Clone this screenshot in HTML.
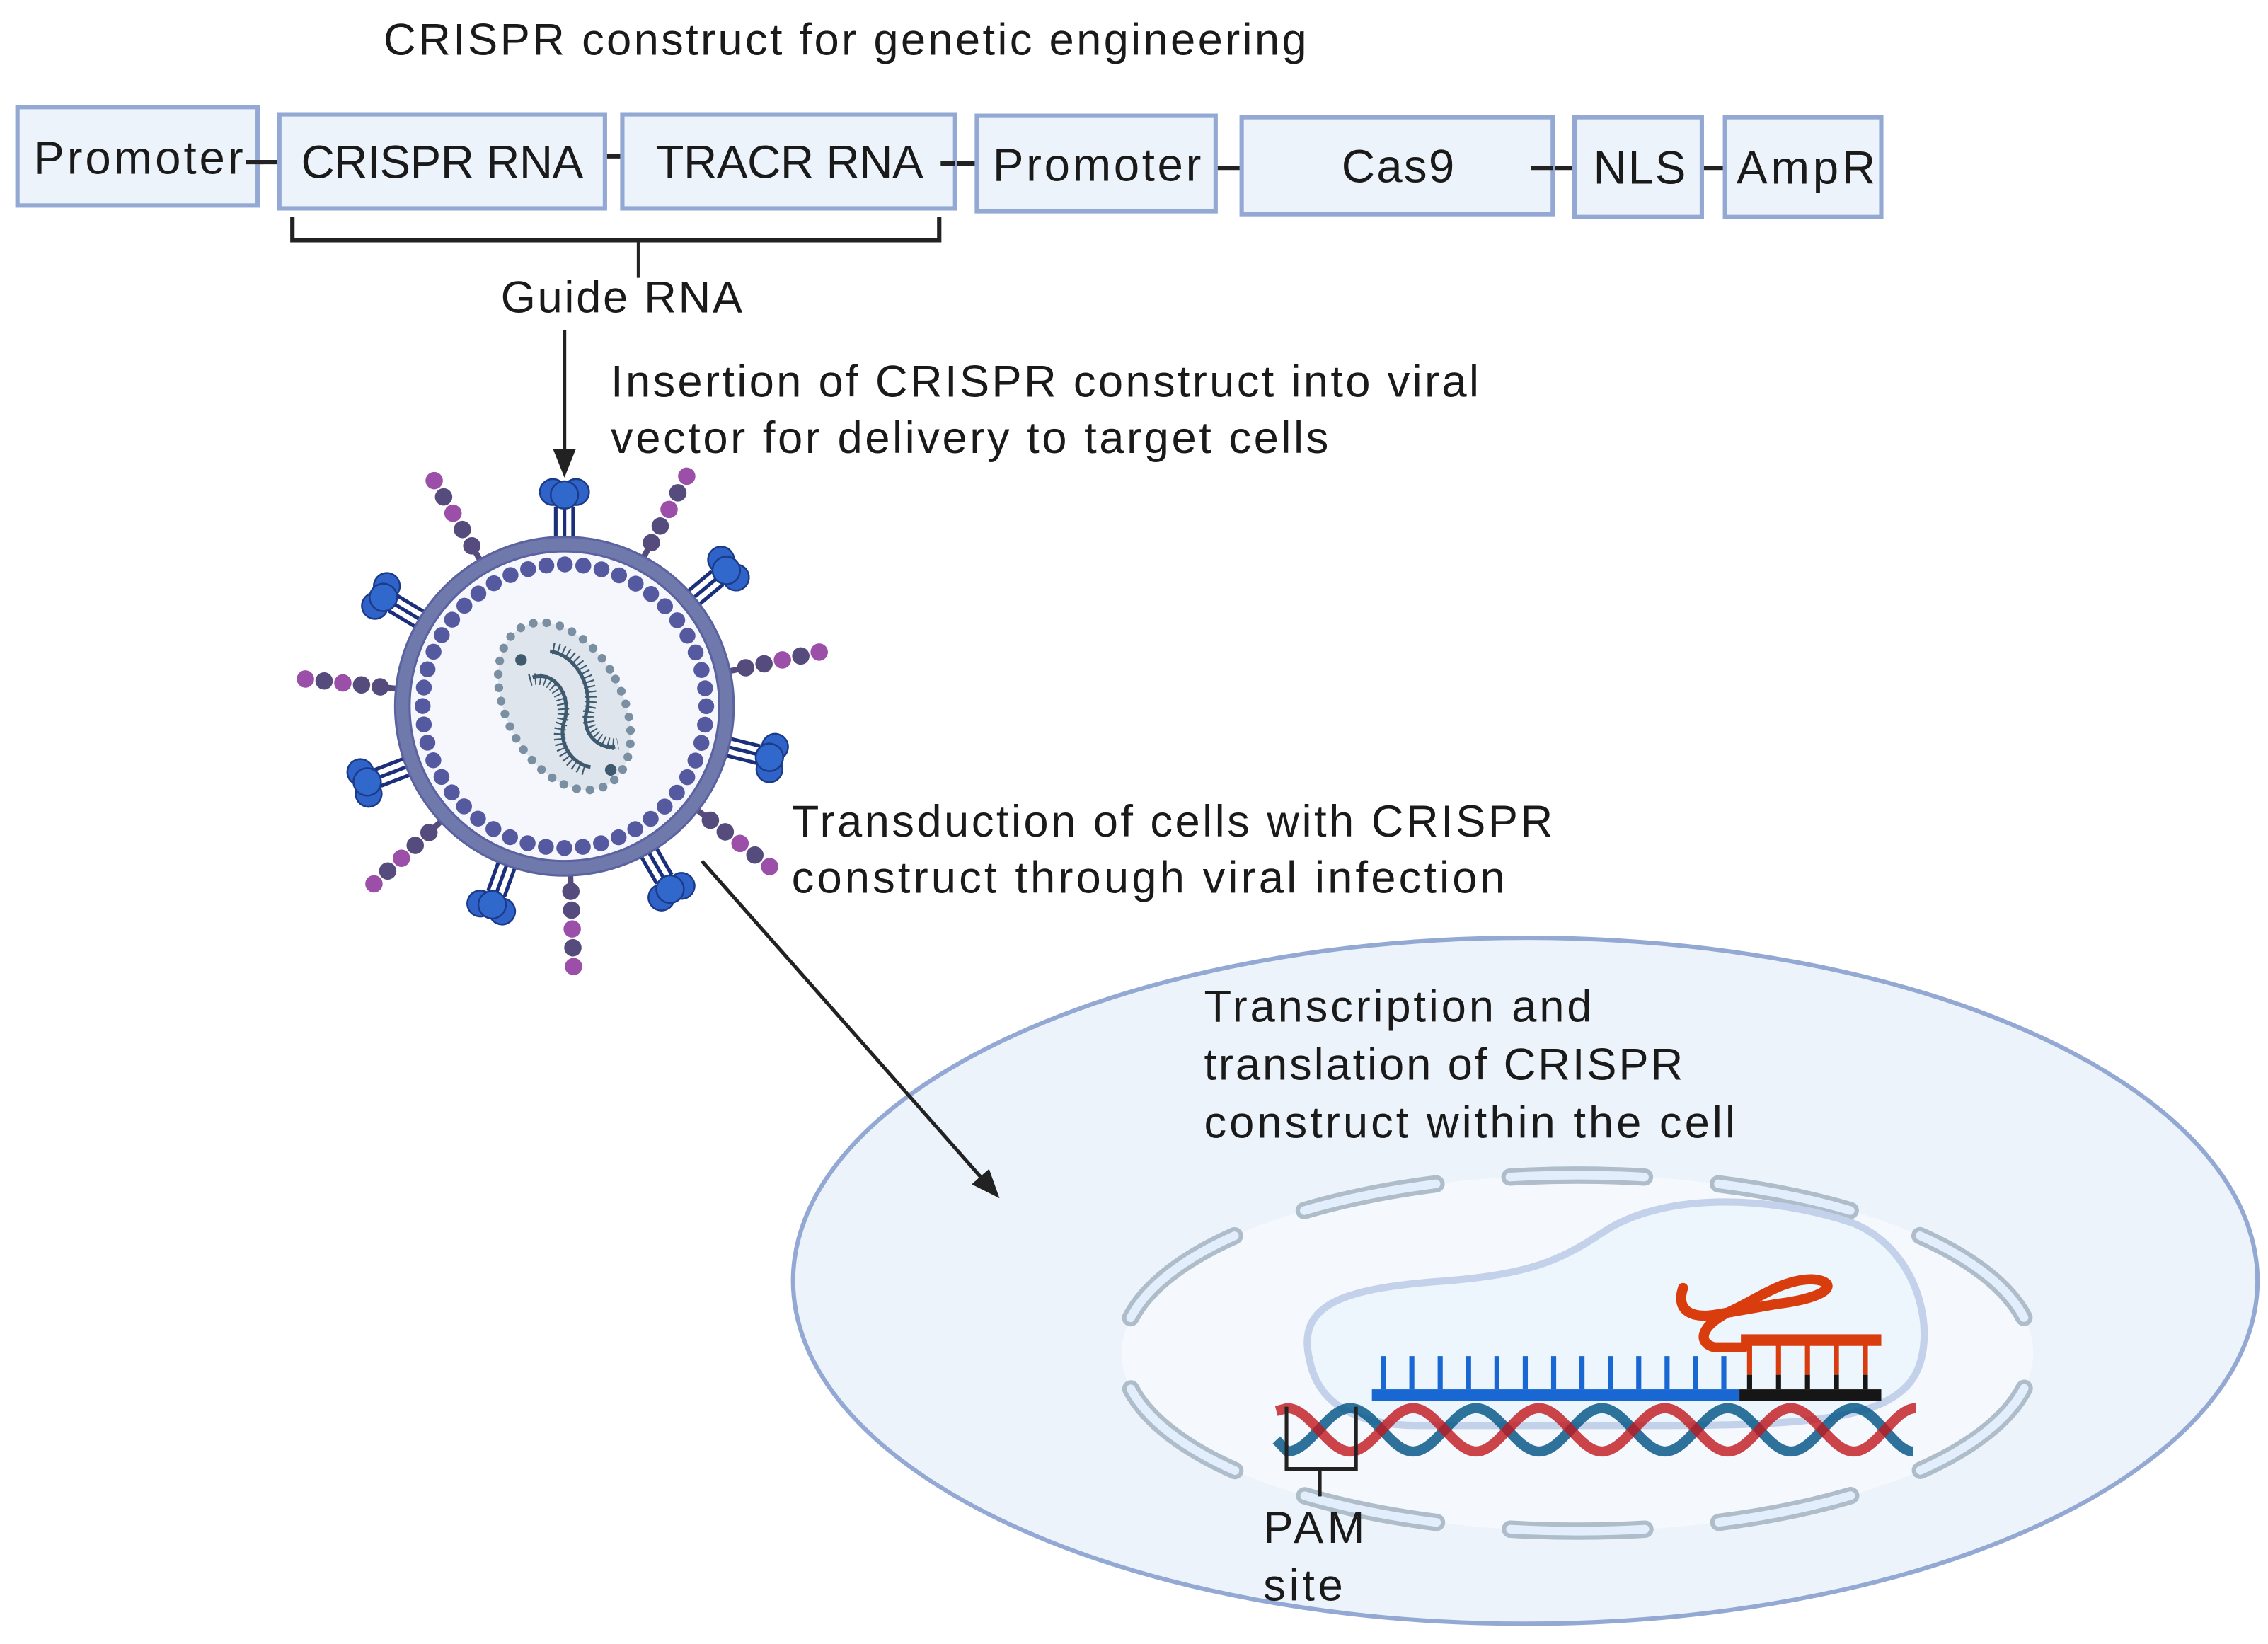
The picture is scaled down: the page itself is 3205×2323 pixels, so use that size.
<!DOCTYPE html>
<html><head><meta charset="utf-8"><style>
html,body{margin:0;padding:0;background:#fff}
svg{display:block}
text{font-family:"Liberation Sans",Arial,sans-serif;fill:#1a1a1a}
</style></head><body>
<svg width="3205" height="2323" viewBox="0 0 1567.2 1136" xmlns="http://www.w3.org/2000/svg">
<defs>
<marker id="ah2" markerWidth="20" markerHeight="20" refX="16" refY="10" orient="auto" markerUnits="userSpaceOnUse" viewBox="0 0 20 20"><path d="M0,2 L20,10 L0,18 z" fill="#222"/></marker>
<g id="bead">
<line x1="100" y1="0" x2="124" y2="0" stroke="#564b7d" stroke-width="4"/>
<circle cx="128" cy="0" r="6" fill="#564b7d"/>
<circle cx="141" cy="0" r="6" fill="#564b7d"/>
<circle cx="154" cy="0" r="6" fill="#9b4fa8"/>
<circle cx="167" cy="0" r="6" fill="#564b7d"/>
<circle cx="180" cy="0" r="6" fill="#9b4fa8"/>
</g>
<g id="glyco">
<line x1="98" y1="-6" x2="138" y2="-6" stroke="#1b2f7a" stroke-width="2.5"/>
<line x1="98" y1="0" x2="140" y2="0" stroke="#1b2f7a" stroke-width="2.5"/>
<line x1="98" y1="6" x2="138" y2="6" stroke="#1b2f7a" stroke-width="2.5"/>
<circle cx="148" cy="-8" r="9" fill="#2f63c7" stroke="#1b3a8a" stroke-width="1.2"/>
<circle cx="148" cy="8" r="9" fill="#2f63c7" stroke="#1b3a8a" stroke-width="1.2"/>
<circle cx="146" cy="0" r="9.5" fill="#3068cc" stroke="#1b3a8a" stroke-width="1.2"/>
</g>
</defs>

<text x="265" y="38" font-size="31" textLength="638">CRISPR construct for genetic engineering</text>

<g stroke="#222" stroke-width="3">
<line x1="170" y1="112" x2="193" y2="112"/>
<line x1="405" y1="108" x2="430" y2="108"/>
<line x1="650" y1="113" x2="688" y2="113"/>
<line x1="830" y1="116" x2="858" y2="116"/>
<line x1="1058" y1="116" x2="1088" y2="116"/>
<line x1="1165" y1="116" x2="1192" y2="116"/>
</g>
<g fill="#edf3fb" stroke="#93a9d4" stroke-width="3">
<rect x="12" y="74" width="166" height="68"/>
<rect x="193" y="79" width="225" height="65"/>
<rect x="430" y="79" width="230" height="65"/>
<rect x="675" y="80" width="165" height="66"/>
<rect x="858" y="81" width="215" height="67"/>
<rect x="1088" y="81" width="88" height="69"/>
<rect x="1192" y="81" width="108" height="69"/>
</g>
<g stroke="#222" stroke-width="3">
<line x1="170" y1="112" x2="182" y2="112"/>
<line x1="650" y1="113" x2="660" y2="113"/>
<line x1="1058" y1="116" x2="1073" y2="116"/>
</g>
<g font-size="32">
<text x="23" y="120" textLength="145">Promoter</text>
<text x="208" y="123" textLength="195">CRISPR RNA</text>
<text x="453" y="123" textLength="185">TRACR RNA</text>
<text x="686" y="125" textLength="144">Promoter</text>
<text x="927" y="126" textLength="78">Cas9</text>
<text x="1101" y="127" textLength="64">NLS</text>
<text x="1200" y="127" textLength="96">AmpR</text>
</g>

<path d="M202 150 V166 H649 V150" fill="none" stroke="#222" stroke-width="3"/>
<line x1="441" y1="166" x2="441" y2="192" stroke="#222" stroke-width="2"/>
<text x="346" y="216" font-size="31" textLength="167">Guide RNA</text>

<line x1="390" y1="228" x2="390" y2="326" stroke="#222" stroke-width="2.5" marker-end="url(#ah2)"/>
<text x="422" y="274" font-size="31" textLength="600">Insertion of CRISPR construct into viral</text>
<text x="422" y="313" font-size="31" textLength="496">vector for delivery to target cells</text>

<g transform="translate(390,488)">
<use href="#bead" transform="rotate(-120)"/>
<use href="#bead" transform="rotate(-62)"/>
<use href="#bead" transform="rotate(-12)"/>
<use href="#bead" transform="rotate(186)"/>
<use href="#bead" transform="rotate(137)"/>
<use href="#bead" transform="rotate(88)"/>
<use href="#bead" transform="rotate(38)"/>
<use href="#glyco" transform="rotate(-90)"/>
<use href="#glyco" transform="rotate(-40)"/>
<use href="#glyco" transform="rotate(14)"/>
<use href="#glyco" transform="rotate(60)"/>
<use href="#glyco" transform="rotate(110)"/>
<use href="#glyco" transform="rotate(159)"/>
<use href="#glyco" transform="rotate(211)"/>
<circle r="112" fill="#f5f7fd" stroke="#7079ab" stroke-width="10"/>
<circle r="117" fill="none" stroke="#5a62a0" stroke-width="1.5"/>
<circle r="107" fill="none" stroke="#5a62a0" stroke-width="1.5"/>
<circle r="98" fill="none" stroke="#5559a0" stroke-width="11" stroke-linecap="round" stroke-dasharray="0 12.83"/>
<g transform="rotate(-28)">
<ellipse cx="0" cy="0" rx="40" ry="62" fill="#dfe5ed"/>
<ellipse cx="0" cy="0" rx="40" ry="62" fill="none" stroke="#7b8fa2" stroke-width="6" stroke-linecap="round" stroke-dasharray="0 9.3"/>
</g>
<path d="M-22 -20 C-5 -25 5 -5 0 10 C-5 25 5 40 18 42" fill="none" stroke="#3f5a6e" stroke-width="2.5"/>
<path d="M-22 -20 C-5 -25 5 -5 0 10 C-5 25 5 40 18 42" fill="none" stroke="#3f5a6e" stroke-width="8" stroke-dasharray="1 2.5" transform="translate(-2,2)"/>
<path d="M-10 -38 C10 -35 20 -10 15 5 C12 20 25 30 35 28" fill="none" stroke="#3f5a6e" stroke-width="2.5"/>
<path d="M-10 -38 C10 -35 20 -10 15 5 C12 20 25 30 35 28" fill="none" stroke="#3f5a6e" stroke-width="8" stroke-dasharray="1 2.5" transform="translate(2,-2)"/>
<circle cx="-30" cy="-32" r="4" fill="#3f5a6e"/>
<circle cx="32" cy="44" r="4" fill="#3f5a6e"/>
</g>

<ellipse cx="1054" cy="885" rx="506" ry="237" fill="#edf3fb" stroke="#93a9d4" stroke-width="3"/>
<ellipse cx="1090" cy="935" rx="315" ry="123" fill="#f5f9fe"/>
<ellipse cx="1090" cy="935" rx="315" ry="123" fill="none" stroke="#aebdc9" stroke-width="12" stroke-linecap="round" stroke-dasharray="93 51.3" stroke-dashoffset="118.9"/>
<ellipse cx="1090" cy="935" rx="315" ry="123" fill="none" stroke="#e2eefb" stroke-width="6" stroke-linecap="round" stroke-dasharray="93 51.3" stroke-dashoffset="118.9"/>
<path d="M905 940 C895 900 930 890 1000 885 C1060 880 1080 870 1110 850 C1150 825 1220 825 1280 845 C1330 865 1340 930 1320 955 C1300 980 1250 985 1150 985 L980 985 C930 985 910 965 905 940 Z" fill="#edf5fd" stroke="#c3d2ea" stroke-width="5"/>

<text x="832" y="706" font-size="31" textLength="268">Transcription and</text>
<text x="832" y="746" font-size="31" textLength="331">translation of CRISPR</text>
<text x="832" y="786" font-size="31" textLength="367">construct within the cell</text>

<line x1="485" y1="595" x2="688" y2="825" stroke="#222" stroke-width="2.5" marker-end="url(#ah2)"/>
<text x="547" y="578" font-size="31" textLength="526">Transduction of cells with CRISPR</text>
<text x="547" y="617" font-size="31" textLength="493">construct through viral infection</text>

<path d="M882 995 L889.5 1003 C905.2 1003 917.3 973 933 973 S960.8 1003 976.5 1003 S1004.3 973 1020 973 S1047.8 1003 1063.5 1003 S1091.3 973 1107 973 S1134.8 1003 1150.5 1003 S1178.3 973 1194 973 S1221.8 1003 1237.5 1003 S1265.3 973 1281 973 S1308.8 1003 1322 1003" fill="none" stroke="#0b5a8a" stroke-width="7" opacity="0.85"/>
<path d="M882 975 L889.5 973 C905.2 973 917.3 1003 933 1003 S960.8 973 976.5 973 S1004.3 1003 1020 1003 S1047.8 973 1063.5 973 S1091.3 1003 1107 1003 S1134.8 973 1150.5 973 S1178.3 1003 1194 1003 S1221.8 973 1237.5 973 S1265.3 1003 1281 1003 S1308.8 973 1324 973" fill="none" stroke="#c0161c" stroke-width="7" opacity="0.8"/>

<rect x="948" y="960" width="254" height="8" fill="#1967d2"/>
<g stroke="#1967d2" stroke-width="3.5">
<line x1="956" y1="937" x2="956" y2="960"/><line x1="975.6" y1="937" x2="975.6" y2="960"/>
<line x1="995.2" y1="937" x2="995.2" y2="960"/><line x1="1014.8" y1="937" x2="1014.8" y2="960"/>
<line x1="1034.4" y1="937" x2="1034.4" y2="960"/><line x1="1054" y1="937" x2="1054" y2="960"/>
<line x1="1073.6" y1="937" x2="1073.6" y2="960"/><line x1="1093.2" y1="937" x2="1093.2" y2="960"/>
<line x1="1112.8" y1="937" x2="1112.8" y2="960"/><line x1="1132.4" y1="937" x2="1132.4" y2="960"/>
<line x1="1152" y1="937" x2="1152" y2="960"/><line x1="1171.6" y1="937" x2="1171.6" y2="960"/>
<line x1="1191.2" y1="937" x2="1191.2" y2="960"/>
</g>
<rect x="1202" y="960" width="98" height="8" fill="#161616"/>
<g stroke-width="3.5">
<line x1="1209" y1="928" x2="1209" y2="950" stroke="#d93d0e"/><line x1="1209" y1="950" x2="1209" y2="960" stroke="#161616"/>
<line x1="1229" y1="928" x2="1229" y2="950" stroke="#d93d0e"/><line x1="1229" y1="950" x2="1229" y2="960" stroke="#161616"/>
<line x1="1249" y1="928" x2="1249" y2="950" stroke="#d93d0e"/><line x1="1249" y1="950" x2="1249" y2="960" stroke="#161616"/>
<line x1="1269" y1="928" x2="1269" y2="950" stroke="#d93d0e"/><line x1="1269" y1="950" x2="1269" y2="960" stroke="#161616"/>
<line x1="1289" y1="928" x2="1289" y2="950" stroke="#d93d0e"/><line x1="1289" y1="950" x2="1289" y2="960" stroke="#161616"/>
</g>
<rect x="1203" y="922" width="97" height="8" fill="#d93d0e"/>
<path d="M1163 890 C1158 905 1168 912 1188 908 L1228 901 C1268 896 1270 885 1252 884 C1232 884 1215 897 1198 905 C1175 915 1172 928 1185 931 L1205 931" fill="none" stroke="#d93d0e" stroke-width="7" stroke-linecap="round"/>

<path d="M889 972 V1015 H937 V972" fill="none" stroke="#222" stroke-width="2.5"/>
<line x1="912" y1="1015" x2="912" y2="1034" stroke="#222" stroke-width="2.5"/>
<text x="873" y="1066" font-size="31" textLength="70">PAM</text>
<text x="873" y="1106" font-size="31" textLength="55">site</text>
</svg>
</body></html>
